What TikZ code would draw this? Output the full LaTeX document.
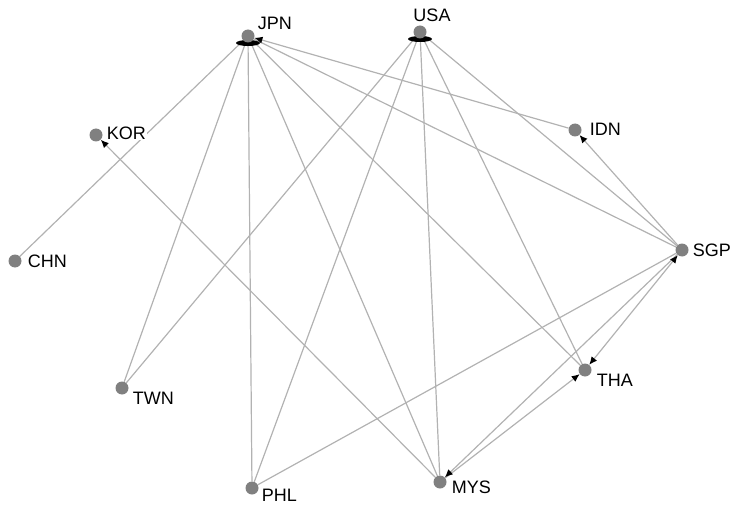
\documentclass[tikz,border=0pt]{standalone}
\usepackage{fontspec}
\setmainfont{Liberation Sans}
\usetikzlibrary{positioning,arrows.meta,backgrounds}

\begin{document}
\begin{tikzpicture}[x=1pt, y=-1pt,
    country/.style={circle, fill=gray, inner sep=0pt, minimum size=13pt},
    lbl/.style={fill=white, inner sep=1pt, font=\fontsize{18}{20}\selectfont},
    link/.style={gray!60, line width=1.2pt},
    arrowin/.style={-{Latex[length=8pt,width=7pt,color=black]}},
    arrowboth/.style={{Latex[length=8pt,width=7pt,color=black]}-{Latex[length=8pt,width=7pt,color=black]}}]
    \useasboundingbox (0,0) rectangle (739,508);

    \node[country] (jpn) at (248,36) {};
    \node[country] (usa) at (420,32) {};
    \node[country] (kor) at (96,135) {};
    \node[country] (idn) at (575,130) {};
    \node[country] (sgp) at (682,250) {};
    \node[country] (tha) at (585,370) {};
    \node[country] (mys) at (440,482) {};
    \node[country] (phl) at (252,488) {};
    \node[country] (chn) at (15,261) {};
    \node[country] (twn) at (122,388) {};

    \node[lbl, right=2pt of jpn, yshift=13pt] (jpnlbl) {JPN};
    \node[lbl, above=2pt of usa, xshift=12pt] (usalbl) {USA};
    \node[lbl, right=3pt of kor, yshift=2pt] (korlbl) {KOR};
    \node[lbl, right=7pt of idn, yshift=1pt] (idnlbl) {IDN};
    \node[lbl, right=3pt of sgp] (sgplbl) {SGP};
    \node[lbl, right=4pt of tha, yshift=-10pt] (thalbl) {THA};
    \node[lbl, right=4pt of mys, yshift=-5pt] (myslbl) {MYS};
    \node[lbl, right=2pt of phl, yshift=-7pt] (phllbl) {PHL};
    \node[lbl, right=5pt of chn] (chnlbl) {CHN};
    \node[lbl, right=3pt of twn, yshift=-10pt] (twnlbl) {TWN};

    \begin{pgfonlayer}{background}
    % links out of JPN and USA
    \draw[link] (jpn) -- (chn);
    \draw[link] (jpn) -- (twn);
    \draw[link] (jpn) -- (phl);
    \draw[link] (jpn) -- (mys);
    \draw[link] (jpn) -- (tha);
    \draw[link] (jpn) -- (sgp);
    \draw[link] (usa) -- (twn);
    \draw[link] (usa) -- (phl);
    \draw[link] (usa) -- (mys);
    \draw[link] (usa) -- (tha);
    \draw[link] (usa) -- (sgp);
    \draw[link] (phl) -- (sgp);

    % directed ones
    \draw[link, arrowin] (idn) -- (jpn);
    \draw[link, arrowin] (mys) -- (kor);
    \draw[link, arrowin] (sgp) -- (idn);
    \draw[link, arrowin] (mys) -- (tha);
    \draw[link, arrowin] (sgp) -- (mys);
    \draw[link, arrowboth] (sgp) -- (tha);

    \fill[black] ([yshift=-7pt]jpn.center) ellipse (12pt and 3pt);
    \fill[black] ([yshift=-7pt]usa.center) ellipse (12pt and 3pt);
    \end{pgfonlayer}
\end{tikzpicture}
\end{document}
